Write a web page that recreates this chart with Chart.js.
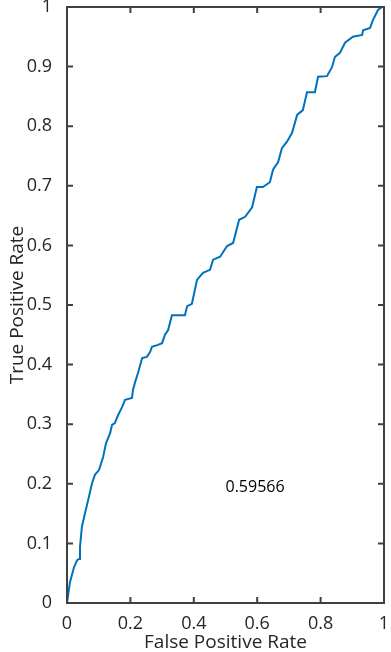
<!DOCTYPE html>
<html>
<head>
<meta charset="utf-8">
<script src="https://cdn.jsdelivr.net/npm/chart.js@4/dist/chart.umd.min.js"></script>
<style>
html,body{margin:0;padding:0;background:#fff;}
#wrap{width:391px;height:652px;position:relative;}
</style>
</head>
<body>
<div id="wrap"><canvas id="c" width="391" height="652"></canvas></div>
<script>
// False positive rate (x) and true positive rate (y)
const fpr = [0, 0.009, 0.022, 0.032, 0.038, 0.041, 0.047, 0.057, 0.069, 0.079, 0.088, 0.101,
  0.114, 0.123, 0.136, 0.142, 0.151, 0.161, 0.174, 0.183, 0.205, 0.208, 0.215, 0.224,
  0.237, 0.252, 0.262, 0.268, 0.287, 0.300, 0.309, 0.319, 0.331, 0.372, 0.379, 0.394,
  0.410, 0.429, 0.451, 0.461, 0.483, 0.505, 0.524, 0.543, 0.562, 0.584, 0.599, 0.618,
  0.640, 0.650, 0.666, 0.678, 0.694, 0.710, 0.726, 0.744, 0.757, 0.782, 0.792, 0.820,
  0.836, 0.845, 0.861, 0.877, 0.902, 0.931, 0.934, 0.956, 0.965, 0.981, 0.994, 1.0];
const tpr = [0, 0.034, 0.060, 0.072, 0.074, 0.094, 0.128, 0.151, 0.178, 0.201, 0.215, 0.223,
  0.245, 0.268, 0.285, 0.299, 0.302, 0.315, 0.329, 0.341, 0.344, 0.357, 0.371, 0.386,
  0.411, 0.413, 0.421, 0.430, 0.433, 0.436, 0.450, 0.458, 0.483, 0.483, 0.498, 0.502,
  0.542, 0.554, 0.559, 0.576, 0.581, 0.599, 0.604, 0.643, 0.648, 0.664, 0.698, 0.698,
  0.706, 0.727, 0.740, 0.763, 0.774, 0.789, 0.819, 0.827, 0.857, 0.857, 0.883, 0.884,
  0.899, 0.916, 0.923, 0.940, 0.950, 0.953, 0.961, 0.965, 0.978, 0.995, 1.0, 1.0];
const xTicks = [0, 0.2, 0.4, 0.6, 0.8, 1];
const yTicks = [0, 0.1, 0.2, 0.3, 0.4, 0.5, 0.6, 0.7, 0.8, 0.9, 1];
const aucLabel = '0.59566';
const aucPos = [0.5, 0.2];
const xTitle = 'False Positive Rate';
const yTitle = 'True Positive Rate';

const FONT = 'Open Sans';
const AX = '#262626';

const boxPlugin = {
  id: 'box',
  afterDraw(chart) {
    const {ctx, chartArea: a, scales} = chart;
    ctx.save();
    ctx.strokeStyle = '#404040';
    ctx.lineWidth = 2;
    ctx.strokeRect(a.left, a.top, a.right - a.left, a.bottom - a.top);
    const tl = 6;
    ctx.beginPath();
    xTicks.forEach(v => {
      const px = scales.x.getPixelForValue(v);
      ctx.moveTo(px, a.bottom); ctx.lineTo(px, a.bottom - tl);
      ctx.moveTo(px, a.top); ctx.lineTo(px, a.top + tl);
    });
    yTicks.forEach(v => {
      const py = scales.y.getPixelForValue(v);
      ctx.moveTo(a.left, py); ctx.lineTo(a.left + tl, py);
      ctx.moveTo(a.right, py); ctx.lineTo(a.right - tl, py);
    });
    ctx.stroke();
    ctx.fillStyle = '#000';
    ctx.font = '16px "' + FONT + '"';
    ctx.textAlign = 'left';
    ctx.textBaseline = 'middle';
    ctx.fillText(aucLabel, scales.x.getPixelForValue(aucPos[0]), scales.y.getPixelForValue(aucPos[1]) + 4);
    ctx.restore();
  }
};

const noPad = s => { s.paddingLeft = 0; s.paddingRight = 0; s.paddingTop = 0; s.paddingBottom = 0; };
const fmt = v => String(Number(v.toFixed(2)));

new Chart(document.getElementById('c'), {
  type: 'line',
  data: {
    datasets: [{
      data: fpr.map((x, i) => ({x: x, y: tpr[i]})),
      borderColor: '#0072BD',
      borderWidth: 2,
      pointRadius: 0,
      tension: 0,
      fill: false
    }]
  },
  options: {
    responsive: false,
    animation: false,
    layout: {padding: {top: 7, right: 7, left: 0, bottom: 0}},
    plugins: {legend: {display: false}, tooltip: {enabled: false}},
    scales: {
      x: {
        type: 'linear', min: 0, max: 1,
        afterBuildTicks: s => { s.ticks = xTicks.map(v => ({value: v})); },
        afterFit: s => { s.height = 49; noPad(s); },
        grid: {display: false},
        border: {display: false},
        ticks: {color: AX, padding: 2, maxRotation: 0, autoSkip: false, callback: fmt, font: {family: FONT, size: 18}},
        title: {display: true, text: xTitle, color: AX, font: {family: FONT, size: 19, lineHeight: 1}, padding: {top: 0, bottom: 0}}
      },
      y: {
        type: 'linear', min: 0, max: 1,
        afterBuildTicks: s => { s.ticks = yTicks.map(v => ({value: v})); },
        afterFit: s => { s.width = 67; noPad(s); },
        grid: {display: false},
        border: {display: false},
        ticks: {color: AX, padding: 7, autoSkip: false, callback: fmt, font: {family: FONT, size: 18}},
        title: {display: true, text: yTitle, color: AX, font: {family: FONT, size: 19, lineHeight: 1}, padding: {top: 8, bottom: 0}}
      }
    }
  },
  plugins: [boxPlugin]
});
</script>
</body>
</html>
